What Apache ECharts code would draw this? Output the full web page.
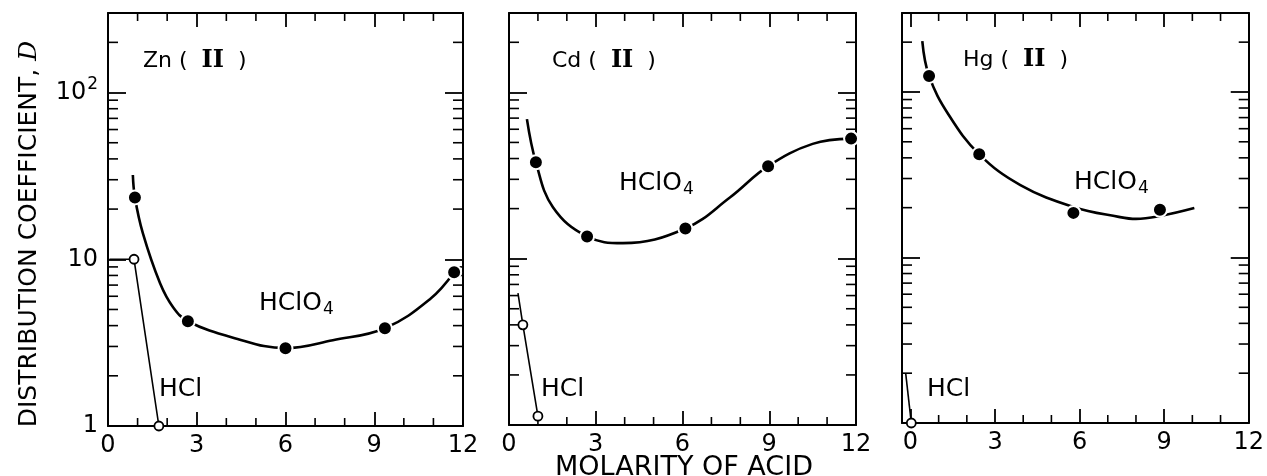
<!DOCTYPE html>
<html>
<head>
<meta charset="utf-8">
<script src="https://cdn.jsdelivr.net/npm/echarts@6/dist/echarts.min.js"></script>
<style>
html, body { margin: 0; padding: 0; background: #fff; }
#chart { width: 1267px; height: 476px; }
</style>
</head>
<body>
<div id="chart"></div>
<script>
// tick values
var xTicks = [0, 3, 6, 9, 12];
var xMinor = [1, 2, 4, 5, 7, 8, 10, 11];
var yMajor = [1, 10, 100];
var yMinor = [2, 3, 4, 5, 6, 7, 8, 9, 20, 30, 40, 50, 60, 70, 80, 90, 200];

// Zn(II)
var znClo4Pts = [[0.91, 23.5], [2.7, 4.25], [6.0, 2.93], [9.36, 3.86], [11.7, 8.36]];
var znClo4Curve = [[0.84, 32], [0.91, 23.5], [1.18, 14.3], [1.76, 7.18], [2.2, 5.16], [2.7, 4.25], [4.2, 3.4], [6.0, 2.93], [7.6, 3.27], [9.36, 3.86], [10.9, 5.8], [11.7, 8.36]];
var znHclLine = [[0.05, 10], [0.88, 10], [1.72, 1]];
var znHclPts = [[0.88, 10], [1.72, 1]];

// Cd(II)
var cdClo4Pts = [[0.93, 38], [2.7, 13.6], [6.1, 15.2], [8.96, 36], [11.83, 52.7]];
var cdClo4Curve = [[0.62, 69], [0.93, 38], [1.52, 20.4], [2.7, 13.6], [3.94, 12.4], [6.1, 15.2], [7.65, 23.4], [8.96, 36], [10.5, 49], [11.83, 52.7]];
var cdHclLine = [[0.31, 6.2], [0.48, 4.0], [1.0, 1.13]];
var cdHclPts = [[0.48, 4.0], [1.0, 1.13]];

// Hg(II)
var hgClo4Pts = [[0.66, 125], [2.44, 42], [5.78, 18.6], [8.85, 19.4]];
var hgClo4Curve = [[0.42, 203], [0.66, 125], [1.36, 72.6], [2.44, 42], [3.9, 27.4], [5.78, 20.2], [7.39, 17.6], [8.0, 17.1], [8.85, 17.8], [10.07, 19.9]];
var hgHclLine = [[-0.17, 2.0], [0.03, 1]];
var hgHclPts = [[0.03, 1]];

var panels = [
  { left: 108, top: 13, width: 355, height: 413, xMin: 0, xMax: 12, labelY: true,
    curve: znClo4Curve, pts: znClo4Pts, hclLine: znHclLine, hclPts: znHclPts },
  { left: 509, top: 13, width: 347, height: 412, xMin: 0, xMax: 12, labelY: false,
    curve: cdClo4Curve, pts: cdClo4Pts, hclLine: cdHclLine, hclPts: cdHclPts },
  { left: 902, top: 13, width: 355, height: 410, xMin: -0.3, xMax: 12, labelY: false,
    curve: hgClo4Curve, pts: hgClo4Pts, hclLine: hgHclLine, hclPts: hgHclPts }
];

var yMin = 1, yMax = 300;
var font = 'DejaVu Sans';
var black = '#000';

var minorData = [];
yMinor.forEach(function (v) { minorData.push([0, v]); });
xMinor.forEach(function (v) { minorData.push([1, v]); });

// minor ticks on all four sides, placed through the axes
function minorTicks(p) {
  return function (params, api) {
    var kind = api.value(0), v = api.value(1);
    var st = { stroke: black, lineWidth: 1.6 };
    if (kind === 0) {
      var a = api.coord([p.xMin, v]), b = api.coord([p.xMax, v]);
      return { type: 'group', children: [
        { type: 'line', shape: { x1: a[0], y1: a[1], x2: a[0] + 10, y2: a[1] }, style: st },
        { type: 'line', shape: { x1: b[0] - 10, y1: b[1], x2: b[0], y2: b[1] }, style: st }
      ] };
    }
    var c = api.coord([v, yMin]), d = api.coord([v, yMax]);
    return { type: 'group', children: [
      { type: 'line', shape: { x1: c[0], y1: c[1], x2: c[0], y2: c[1] - 8 }, style: st },
      { type: 'line', shape: { x1: d[0], y1: d[1], x2: d[0], y2: d[1] + 8 }, style: st }
    ] };
  };
}

var grids = [], xAxes = [], yAxes = [], series = [];
panels.forEach(function (p, i) {
  grids.push({ left: p.left, top: p.top, width: p.width, height: p.height, show: false });
  var axLine = { show: true, onZero: false, lineStyle: { color: black, width: 2 } };
  xAxes.push({
    gridIndex: i, type: 'value', position: 'bottom', min: p.xMin, max: p.xMax,
    axisLine: axLine, splitLine: { show: false },
    axisTick: { inside: true, length: 14, customValues: xTicks, lineStyle: { color: black, width: 1.8 } },
    axisLabel: { customValues: xTicks, fontFamily: font, fontSize: 24, color: black, margin: 8 }
  });
  xAxes.push({
    gridIndex: i, type: 'value', position: 'top', min: p.xMin, max: p.xMax,
    axisLine: axLine, splitLine: { show: false },
    axisTick: { inside: true, length: 14, customValues: xTicks, lineStyle: { color: black, width: 1.8 } },
    axisLabel: { show: false }
  });
  yAxes.push({
    gridIndex: i, type: 'log', logBase: 10, position: 'left', min: yMin, max: yMax,
    axisLine: axLine, splitLine: { show: false },
    axisTick: { inside: true, length: 18, customValues: yMajor, lineStyle: { color: black, width: 1.8 } },
    axisLabel: {
      show: p.labelY, customValues: yMajor, margin: 10, color: black, fontFamily: font, fontSize: 24,
      formatter: function (v) { return v === 100 ? '{b|10}{s|2}' : '{b|' + v + '}'; },
      rich: {
        b: { fontFamily: font, fontSize: 24, color: black },
        s: { fontFamily: font, fontSize: 17, color: black, padding: [0, 0, 16, 1] }
      }
    }
  });
  yAxes.push({
    gridIndex: i, type: 'log', logBase: 10, position: 'right', min: yMin, max: yMax,
    axisLine: axLine, splitLine: { show: false },
    axisTick: { inside: true, length: 18, customValues: yMajor, lineStyle: { color: black, width: 1.8 } },
    axisLabel: { show: false }
  });

  var xi = i * 2, yi = i * 2;
  series.push({
    type: 'custom', xAxisIndex: xi, yAxisIndex: yi, clip: false, silent: true,
    renderItem: minorTicks(p), data: minorData, z: 1
  });
  series.push({
    type: 'line', xAxisIndex: xi, yAxisIndex: yi, data: p.curve, smooth: 0.4,
    showSymbol: false, symbol: 'none', clip: false,
    lineStyle: { color: black, width: 2.6 }, z: 2
  });
  series.push({
    type: 'line', xAxisIndex: xi, yAxisIndex: yi, data: p.hclLine,
    showSymbol: false, symbol: 'none', clip: false,
    lineStyle: { color: black, width: 1.6 }, z: 2
  });
  series.push({
    type: 'scatter', xAxisIndex: xi, yAxisIndex: yi, data: p.pts, symbolSize: 14, clip: false,
    itemStyle: { color: black, borderColor: '#fff', borderWidth: 2, opacity: 1 }, z: 3
  });
  series.push({
    type: 'scatter', xAxisIndex: xi, yAxisIndex: yi, data: p.hclPts, symbolSize: 9, clip: false,
    itemStyle: { color: '#fff', borderColor: black, borderWidth: 1.8, opacity: 1 }, z: 4
  });
});

var richText = {
  sub: { fontFamily: font, fontSize: 17, fill: black, padding: [14, 0, 0, 1] },
  r: { fontFamily: 'DejaVu Serif', fontWeight: 'bold', fontSize: 24, fill: black }
};

function txt(x, y, text, size) {
  return {
    type: 'text', x: x, y: y, z: 10,
    style: {
      text: text, fontFamily: font, fontSize: size || 25, fill: black, verticalAlign: 'middle',
      rich: richText
    }
  };
}

var graphics = [
  txt(143, 61, 'Zn (  {r|II}  )', 22),
  txt(552, 61, 'Cd (  {r|II}  )', 22),
  txt(963, 60, 'Hg (  {r|II}  )', 22),
  txt(259, 303, 'HClO{sub|4}'),
  txt(619, 183, 'HClO{sub|4}'),
  txt(1074, 182, 'HClO{sub|4}'),
  txt(159, 389, 'HCl'),
  txt(541, 389, 'HCl'),
  txt(927, 389, 'HCl'),
  {
    type: 'text', x: 684, y: 468, z: 10,
    style: { text: 'MOLARITY OF ACID', fontFamily: font, fontSize: 27, fill: black, align: 'center', verticalAlign: 'middle' }
  },
  {
    type: 'text', x: 29, y: 234, rotation: Math.PI / 2, z: 10,
    style: {
      text: 'DISTRIBUTION COEFFICIENT, {d|D}', fontFamily: font, fontSize: 25, fill: black,
      align: 'center', verticalAlign: 'middle',
      rich: { d: { fontFamily: 'DejaVu Serif', fontStyle: 'italic', fontSize: 25, fill: black } }
    }
  }
];

var chart = echarts.init(document.getElementById('chart'));
chart.setOption({
  animation: false,
  backgroundColor: '#fff',
  grid: grids,
  xAxis: xAxes,
  yAxis: yAxes,
  series: series,
  graphic: graphics
});
</script>
</body>
</html>
